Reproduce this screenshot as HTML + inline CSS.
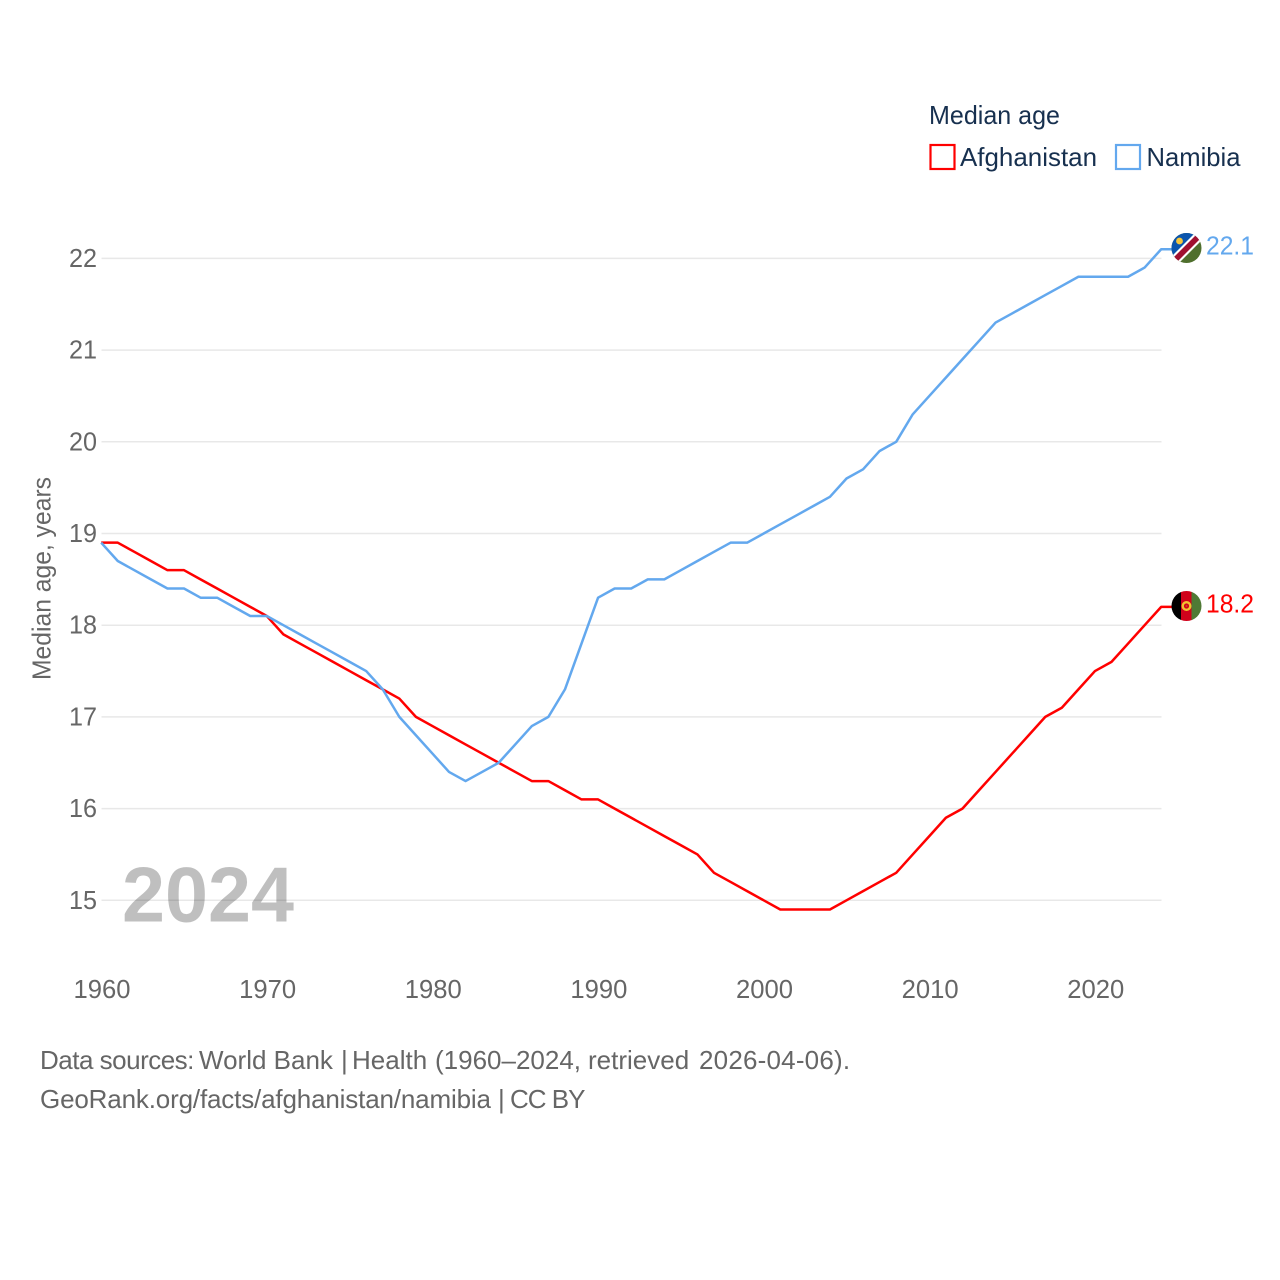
<!DOCTYPE html>
<html lang="en">
<head>
<meta charset="utf-8">
<title>Median age: Afghanistan and Namibia</title>
<style>
html,body{margin:0;padding:0;background:#fff;width:1280px;height:1280px;overflow:hidden}
svg{display:block}
text{font-family:"Liberation Sans",sans-serif}
</style>
</head>
<body>
<svg id="chart" width="1280" height="1280" viewBox="0 0 1280 1280" xmlns="http://www.w3.org/2000/svg">
  <defs>
    <clipPath id="flag-clip-na"><circle cx="1186.5" cy="248" r="15"/></clipPath>
    <clipPath id="flag-clip-af"><circle cx="1186.5" cy="606" r="15"/></clipPath>
  </defs>

  <g id="grid"></g>
  <g id="yticks"></g>
  <g id="xticks"></g>

  <text x="122" y="921.5" font-size="78" font-weight="700" fill="#000" fill-opacity="0.25" textLength="172" lengthAdjust="spacingAndGlyphs">2024</text>

  <g id="series"></g>

  <text transform="translate(50.5,680) rotate(-90)" font-size="26" fill="#666" textLength="203" lengthAdjust="spacingAndGlyphs">Median age, years</text>

  <g>
    <text x="929" y="124" font-size="26" fill="#17304f" textLength="131" lengthAdjust="spacingAndGlyphs">Median age</text>
    <g>
      <rect x="930.5" y="145" width="24" height="24" fill="#fff" stroke="#ff0000" stroke-width="2.2"/>
      <text x="960" y="166" font-size="26" fill="#17304f" textLength="137" lengthAdjust="spacingAndGlyphs">Afghanistan</text>
    </g>
    <g>
      <rect x="1116" y="145" width="24" height="24" fill="#fff" stroke="#63a8ee" stroke-width="2.2"/>
      <text x="1146.5" y="166" font-size="26" fill="#17304f" textLength="94" lengthAdjust="spacingAndGlyphs">Namibia</text>
    </g>
  </g>

  <g clip-path="url(#flag-clip-na)">
    <rect x="1171" y="232" width="31" height="32" fill="#4f6f2d"/>
    <polygon points="1171,232 1202,232 1171,263" fill="#0b55ad"/>
    <polygon points="1169,259 1198,230 1205,237 1176,266" fill="#fff"/>
    <polygon points="1170.5,260.5 1199.5,231.5 1203.5,235.5 1174.5,264.5" fill="#a01030"/>
    <circle cx="1179.5" cy="241" r="3.4" fill="#f5c63c"/>
  </g>
  <g clip-path="url(#flag-clip-af)">
    <rect x="1171" y="590" width="10.5" height="32" fill="#000"/>
    <rect x="1181" y="590" width="11" height="32" fill="#d0021b"/>
    <rect x="1191.5" y="590" width="10.5" height="32" fill="#4f7a35"/>
    <circle cx="1186.5" cy="606" r="3.8" fill="none" stroke="#f2c230" stroke-width="2.4"/>
    <circle cx="1186.5" cy="606" r="1" fill="#c8501b"/>
  </g>

  <text x="1206" y="254.5" font-size="26" fill="#63a8ee" textLength="48" lengthAdjust="spacingAndGlyphs">22.1</text>
  <text x="1206" y="612.5" font-size="26" fill="#ff0000" textLength="48" lengthAdjust="spacingAndGlyphs">18.2</text>

  <text y="1069" font-size="26" fill="#666"><tspan x="40" letter-spacing="-0.5">Data sources: </tspan><tspan x="199">World Bank </tspan><tspan x="341">| </tspan><tspan x="352">Health </tspan><tspan x="435">(1960–2024, </tspan><tspan x="588">retrieved </tspan><tspan x="699" letter-spacing="0.2">2026-04-06).</tspan></text>
  <text y="1108" font-size="26" fill="#666"><tspan x="40" letter-spacing="-0.16">GeoRank.org/facts/afghanistan/namibia </tspan><tspan x="498" letter-spacing="-1">| CC BY</tspan></text>
</svg>

<script>
const startYear = 1960;
const afghanistan = [18.9,18.9,18.8,18.7,18.6,18.6,18.5,18.4,18.3,18.2,18.1,17.9,17.8,17.7,17.6,17.5,17.4,17.3,17.2,17.0,16.9,16.8,16.7,16.6,16.5,16.4,16.3,16.3,16.2,16.1,16.1,16.0,15.9,15.8,15.7,15.6,15.5,15.3,15.2,15.1,15.0,14.9,14.9,14.9,14.9,15.0,15.1,15.2,15.3,15.5,15.7,15.9,16.0,16.2,16.4,16.6,16.8,17.0,17.1,17.3,17.5,17.6,17.8,18.0,18.2];
const namibia = [18.9,18.7,18.6,18.5,18.4,18.4,18.3,18.3,18.2,18.1,18.1,18.0,17.9,17.8,17.7,17.6,17.5,17.3,17.0,16.8,16.6,16.4,16.3,16.4,16.5,16.7,16.9,17.0,17.3,17.8,18.3,18.4,18.4,18.5,18.5,18.6,18.7,18.8,18.9,18.9,19.0,19.1,19.2,19.3,19.4,19.6,19.7,19.9,20.0,20.3,20.5,20.7,20.9,21.1,21.3,21.4,21.5,21.6,21.7,21.8,21.8,21.8,21.8,21.9,22.1];
const yTicks = [15,16,17,18,19,20,21,22];
const xTicks = [1960,1970,1980,1990,2000,2010,2020];

const NS = 'http://www.w3.org/2000/svg';
function xScale(year){ return 101.2 + (year - 1960) * (1060 / 64); }
function yScale(v){ return 900.3 - (v - 15) * 91.7; }
function make(tag, parent, attrs, text){
  const el = document.createElementNS(NS, tag);
  for (const k in attrs) el.setAttribute(k, attrs[k]);
  if (text !== undefined) el.textContent = text;
  parent.appendChild(el);
  return el;
}

const gridG = document.getElementById('grid');
const yG = document.getElementById('yticks');
const xG = document.getElementById('xticks');
const seriesG = document.getElementById('series');

yTicks.forEach(function(t){
  const line = make('line', gridG, {x1:101.5, x2:1161.5, y1:yScale(t), y2:yScale(t), stroke:'#e8e8e8', 'stroke-width':1.5});
  
  
  const label = make('text', yG, {x:97, y:yScale(t)+8.5, 'text-anchor':'end', 'font-size':26, fill:'#666', textLength:28, lengthAdjust:'spacingAndGlyphs'}, String(t));
  
  
});

xTicks.forEach(function(t){
  const label = make('text', xG, {x:xScale(t)+0.8, y:998, 'text-anchor':'middle', 'font-size':26, fill:'#666', textLength:57, lengthAdjust:'spacingAndGlyphs'}, String(t));
  
  
});

function drawSeries(values, color){
  const pts = values.map(function(v, i){
    return xScale(startYear + i).toFixed(2) + ',' + yScale(v).toFixed(2);
  });
  pts.push('1172,' + yScale(values[values.length - 1]).toFixed(2));
  return make('polyline', seriesG, {points:pts.join(' '), fill:'none', stroke:color, 'stroke-width':2.5, 'stroke-linejoin':'round'});
}

const afLine = drawSeries(afghanistan, '#ff0000');


const naLine = drawSeries(namibia, '#63a8ee');


</script>
</body>
</html>
